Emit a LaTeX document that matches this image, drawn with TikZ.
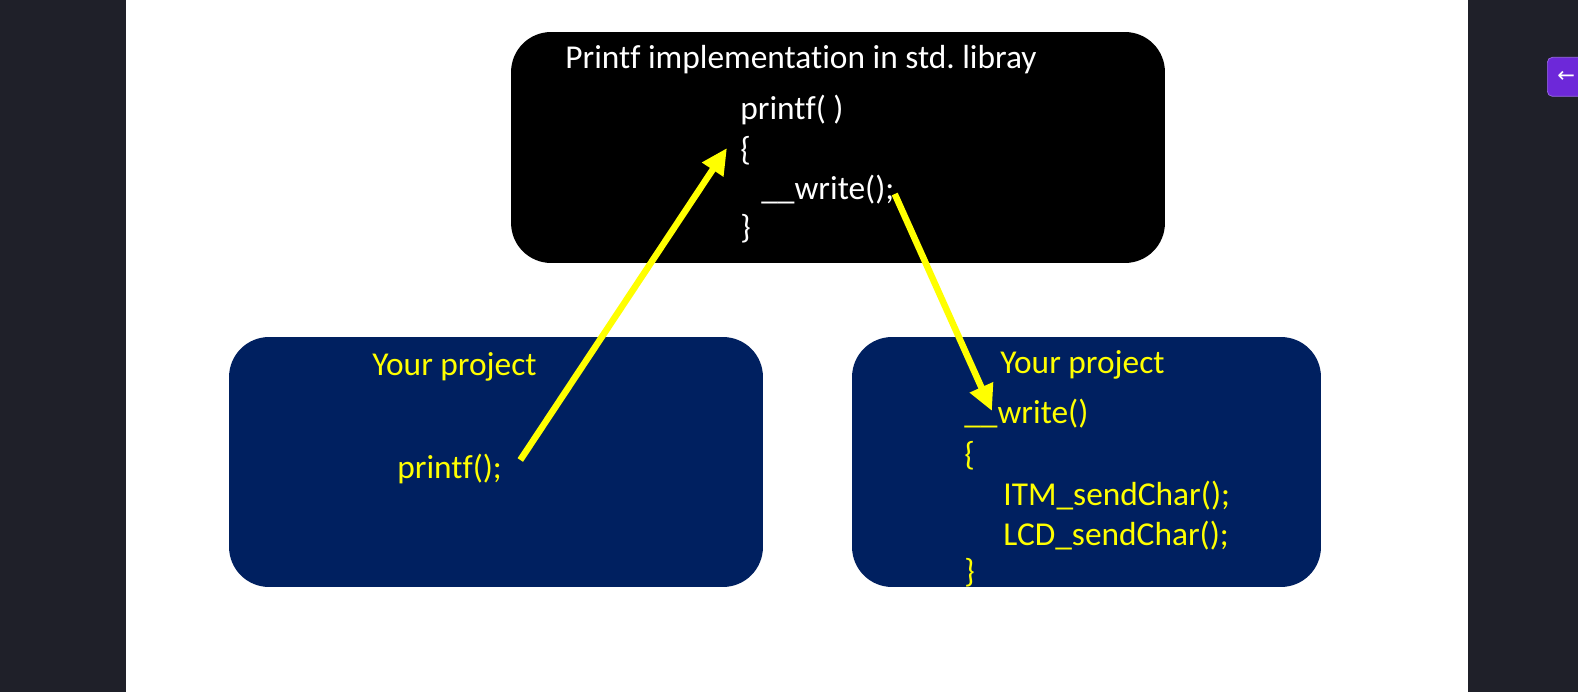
\documentclass[tikz,border=0pt]{standalone}
\usepackage{fontspec}
\setmainfont[Ligatures=NoCommon]{Carlito}
\newfontfamily\symfont{DejaVu Sans}
\frenchspacing
\usetikzlibrary{arrows.meta, positioning}
\definecolor{pageDark}{HTML}{1F2029}
\definecolor{boxNavy}{HTML}{002060}
\definecolor{codeYellow}{HTML}{FFFF00}
\definecolor{btnPurple}{HTML}{6D28D9}

\begin{document}
\begin{tikzpicture}[x=0.02cm, y=-0.02cm,
    slide/.style={rectangle, rounded corners=0.8cm, draw=none},
    code/.style={anchor=west, inner sep=0pt, text=#1,
                 font=\fontsize{19}{23}\selectfont},
    call/.style={draw=codeYellow, line width=0.13cm,
                 -{Triangle[length=0.52cm, width=0.48cm]}},
  ]
    % page
    \fill[pageDark] (0,0) rectangle (1578,692);
    \fill[white] (126,0) rectangle (1468,692);
    \useasboundingbox (0,0) rectangle (1578,692);
    \node[rectangle, rounded corners=0.1cm, fill=btnPurple, draw=btnPurple!70!white,
          minimum width=1.2cm, minimum height=0.78cm, anchor=north west]
      (back) at (1547,57) {};
    \node[anchor=west, inner sep=0pt, text=white,
          font=\symfont\fontsize{12}{14}\selectfont] (backArrow) at (1557,76.5) {←};

    \node[slide, fill=black, minimum width=13.08cm, minimum height=4.62cm]
      (lib) at (838,147.5) {};
    \node[slide, fill=boxNavy, minimum width=10.68cm, minimum height=5cm]
      (proj) at (496,462) {};
    \node[slide, fill=boxNavy, minimum width=9.38cm, minimum height=5cm]
      (drv) at (1086.5,462) {};

    \node[code=white] (libTitle) at (565,60) {Printf implementation in std. libray};
    \node[code=white] (libHead) at (740,110) {printf( )};
    \node[code=white] (libOpen) at (740,151) {\{};
    \node[code=white] (libCall) at (761,190) {\_\_write();};
    \node[code=white] (libClose) at (740,229) {\}};

    \node[code=codeYellow] (projTitle) at (372,367) {Your project};
    \node[code=codeYellow] (projCall) at (397,469) {printf();};

    \node[code=codeYellow] (drvTitle) at (1000,365) {Your project};
    \node[code=codeYellow] (drvHead) at (964,414) {\_\_write()};
    \node[code=codeYellow] (drvOpen) at (964,456) {\{};
    \node[code=codeYellow] (drvSend) at (1003,496) {ITM\_sendChar();};
    \node[code=codeYellow] (drvLcd) at (1003,536) {LCD\_sendChar();};
    \node[code=codeYellow] (drvClose) at (964,573) {\}};

    \draw[call] ([shift={(0.36cm,0.18cm)}]projCall.east) -- ([shift={(-0.26cm,0.06cm)}]libOpen.west);
    \draw[call] ([yshift=-0.08cm]libCall.east) -- ([shift={(0.56cm,0.06cm)}]drvHead.west);
  \end{tikzpicture}
\end{document}
